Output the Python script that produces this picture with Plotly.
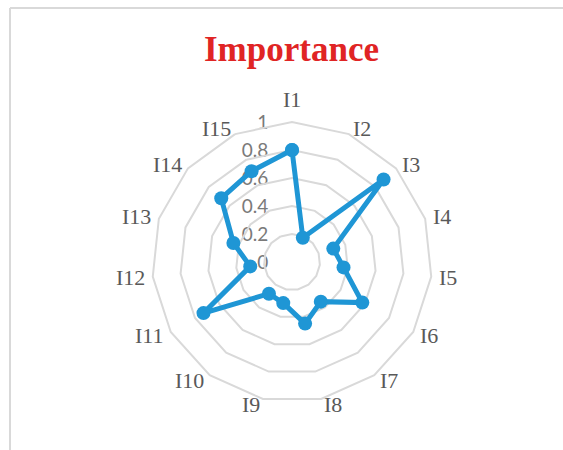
import math
import plotly.graph_objects as go

# Importance score for each of the 15 items
categories = ["I1", "I2", "I3", "I4", "I5", "I6", "I7", "I8",
              "I9", "I10", "I11", "I12", "I13", "I14", "I15"]
importance = [0.80, 0.19, 0.88, 0.31, 0.37, 0.58, 0.35, 0.45,
              0.30, 0.28, 0.73, 0.30, 0.44, 0.68, 0.71]
radial_ticks = [0, 0.2, 0.4, 0.6, 0.8, 1]
radial_tick_text = ["0", "0.2", "0.4", "0.6", "0.8", "1"]

W, H = 563, 450
cx, cy, R = 292, 262, 140  # plot centre and outer radius in pixels

BLUE = "#1f96d5"
GRID = "#d9d9d9"
LABEL_GREY = "#595959"
TICK_GREY = "#7a7a7a"

dom_x = [(cx - R) / W, (cx + R) / W]
dom_y = [(H - cy - R) / H, (H - cy + R) / H]

fig = go.Figure()
fig.add_trace(go.Scatterpolar(
    r=importance + importance[:1],
    theta=categories + categories[:1],
    mode="lines+markers",
    line=dict(color=BLUE, width=5),
    marker=dict(color=BLUE, size=14),
    showlegend=False,
    hoverinfo="skip",
))

# Cartesian overlay sharing the polar frame: one unit = outer radius.
# It carries the value scale on the left of the vertical spoke and the
# category labels placed just outside the outer ring.
fig.add_trace(go.Scatter(x=[], y=[], showlegend=False, hoverinfo="skip"))

label_annotations = []
n = len(categories)
for i, name in enumerate(categories):
    ang = 2 * math.pi * i / n          # clockwise from the top
    s, c = math.sin(ang), math.cos(ang)
    if abs(s) < 0.1:
        xanchor, yanchor = "center", ("bottom" if c > 0 else "top")
        gap = 8
    else:
        xanchor, yanchor = ("left" if s > 0 else "right"), "middle"
        gap = 6
    label_annotations.append(dict(
        text=name, x=s, y=c, xref="x", yref="y",
        xanchor=xanchor, yanchor=yanchor,
        xshift=gap * s, yshift=gap * c,
        showarrow=False,
        font=dict(family="Liberation Serif", size=22, color=LABEL_GREY),
    ))

fig.update_layout(
    width=W, height=H,
    autosize=False,
    margin=dict(l=0, r=0, t=0, b=0, pad=0, autoexpand=False),
    paper_bgcolor="white",
    plot_bgcolor="rgba(0,0,0,0)",
    polar=dict(
        domain=dict(x=dom_x, y=dom_y),
        bgcolor="rgba(0,0,0,0)",
        gridshape="linear",
        radialaxis=dict(
            range=[0, 1],
            tickvals=radial_ticks,
            showticklabels=False,
            angle=90,
            showline=False,
            ticks="",
            gridcolor=GRID,
            gridwidth=2,
        ),
        angularaxis=dict(
            direction="clockwise",
            rotation=90,
            showgrid=False,
            showline=True,
            linecolor=GRID,
            linewidth=2,
            ticks="",
            showticklabels=False,
        ),
    ),
    xaxis=dict(domain=dom_x, range=[-1, 1], visible=False,
               fixedrange=True, automargin=False),
    yaxis=dict(
        domain=dom_y, range=[-1, 1],
        anchor="free", position=cx / W, side="left",
        tickvals=radial_ticks, ticktext=radial_tick_text,
        ticks="outside", ticklen=20, tickcolor="rgba(0,0,0,0)",
        showline=False, showgrid=False, zeroline=False,
        tickfont=dict(family="Lato", size=19, color=TICK_GREY),
        fixedrange=True, automargin=False,
    ),
    annotations=[dict(
        text="<b>Importance</b>",
        x=291 / W, y=1 - 49 / H, xref="paper", yref="paper",
        xanchor="center", yanchor="middle", showarrow=False,
        font=dict(family="Liberation Serif", size=35, color="#e02424"),
    )] + label_annotations,
    shapes=[
        dict(type="line", xref="paper", yref="paper",
             x0=10 / W, x1=1.0, y0=1 - 8 / H, y1=1 - 8 / H,
             line=dict(color=GRID, width=2)),
        dict(type="line", xref="paper", yref="paper",
             x0=10 / W, x1=10 / W, y0=1 - 8 / H, y1=0,
             line=dict(color=GRID, width=2)),
    ],
)

fig.write_html("out.html", config={"displayModeBar": False})
